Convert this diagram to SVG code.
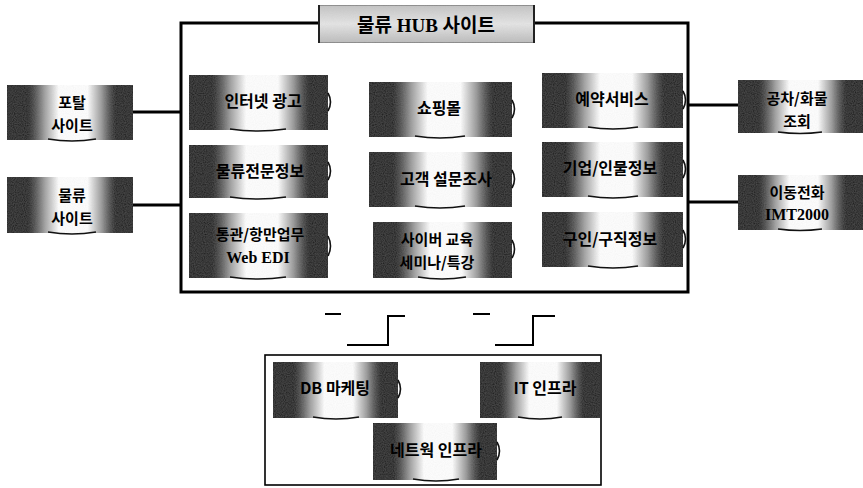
<svg xmlns="http://www.w3.org/2000/svg" width="863" height="488" viewBox="0 0 863 488">
  <defs>
    <linearGradient id="cyl" x1="0" y1="0" x2="1" y2="0">
      <stop offset="0" stop-color="#000000"/>
      <stop offset="0.16" stop-color="#0a0a0a"/>
      <stop offset="0.3" stop-color="#a0a0a0"/>
      <stop offset="0.41" stop-color="#ffffff"/>
      <stop offset="0.64" stop-color="#ffffff"/>
      <stop offset="0.75" stop-color="#9a9a9a"/>
      <stop offset="0.87" stop-color="#0a0a0a"/>
      <stop offset="1" stop-color="#000000"/>
    </linearGradient>
    <linearGradient id="titleg" x1="0" y1="0" x2="0" y2="1">
      <stop offset="0" stop-color="#c4c4c4"/>
      <stop offset="0.5" stop-color="#e6e6e6"/>
      <stop offset="1" stop-color="#bcbcbc"/>
    </linearGradient>
    <filter id="grain" x="0" y="0" width="1" height="1">
      <feTurbulence type="fractalNoise" baseFrequency="0.9" numOctaves="1" seed="3" result="n"/>
      <feColorMatrix in="n" type="matrix" values="0 0 0 0 0.45  0 0 0 0 0.45  0 0 0 0 0.45  0 0 0 0.18 0" result="g"/>
      <feComposite in="g" in2="SourceGraphic" operator="in" result="gc"/>
      <feMerge><feMergeNode in="SourceGraphic"/><feMergeNode in="gc"/></feMerge>
    </filter>
  </defs>
  <style>
    .box{fill:url(#cyl);filter:url(#grain)}
    .base{fill:none;stroke:#111;stroke-width:1.6}
    .bump{fill:none;stroke:#111;stroke-width:1.6}
    .t{font-family:"Noto Sans CJK KR","Liberation Sans",sans-serif;font-weight:bold;font-size:16px;fill:#000;text-anchor:middle;dominant-baseline:central}
    .t2{font-family:"Noto Sans CJK KR","Liberation Sans",sans-serif;font-weight:bold;font-size:15px;fill:#000;text-anchor:middle;dominant-baseline:central}
    .s{font-family:"Liberation Serif","Noto Sans CJK KR",serif;font-weight:bold;font-size:16px;fill:#000;text-anchor:middle;dominant-baseline:central}
    .line{fill:none;stroke:#000;stroke-width:3}
    .thin{fill:none;stroke:#000;stroke-width:2}
  </style>

  <g id="frames">
    <rect x="181" y="23" width="507" height="269" fill="none" stroke="#000" stroke-width="3"/>
    <rect x="265" y="355" width="336" height="130" fill="none" stroke="#000" stroke-width="1.6"/>
  </g>

  <g id="title">
    <rect x="318" y="5" width="217" height="38" fill="url(#titleg)" stroke="#555" stroke-width="1" filter="url(#grain)"/>
    <line x1="319" y1="5" x2="319" y2="43" stroke="#222" stroke-width="2"/>
    <line x1="534" y1="5" x2="534" y2="43" stroke="#222" stroke-width="2"/>
    <text x="426" y="25" class="s" style="font-size:19px">물류 HUB 사이트</text>
  </g>

  <g id="connectors">
    <line class="line" x1="133" y1="112" x2="181" y2="112"/>
    <line class="line" x1="133" y1="205" x2="181" y2="205"/>
    <line class="line" x1="688" y1="105" x2="738" y2="105"/>
    <line class="line" x1="688" y1="202" x2="738" y2="202"/>
    <line class="thin" x1="325" y1="314" x2="341" y2="314"/>
    <polyline class="thin" points="347,345 388,345 388,316 405,316"/>
    <line class="thin" x1="473" y1="314" x2="490" y2="314"/>
    <polyline class="thin" points="495,345 533,345 533,316 555,316"/>
  </g>

  <g id="n-portal">
    <rect class="box" x="7" y="85" width="126" height="55"/>
    <path class="base" d="M48,139 Q72,143 96,139"/>
    <text class="t2" x="72" y="101">포탈</text>
    <text class="t2" x="72" y="124">사이트</text>
  </g>
  <g id="n-logisite">
    <rect class="box" x="7" y="177" width="126" height="56"/>
    <path class="base" d="M48,232 Q72,236 96,232"/>
    <text class="t2" x="72" y="194">물류</text>
    <text class="t2" x="72" y="217">사이트</text>
  </g>

  <g id="n-ad">
    <rect class="box" x="189" y="75" width="139" height="55"/>
    <path class="base" d="M230,129 Q258,133 286,129"/>
    <path class="bump" d="M328,93 Q333,102 328,111"/>
    <text class="t" x="263" y="100">인터넷 광고</text>
  </g>
  <g id="n-info">
    <rect class="box" x="189" y="145" width="139" height="53"/>
    <path class="base" d="M230,197 Q258,201 286,197"/>
    <path class="bump" d="M328,162 Q333,171 328,180"/>
    <text class="t" x="260" y="170">물류전문정보</text>
  </g>
  <g id="n-customs">
    <rect class="box" x="189" y="213" width="139" height="65"/>
    <path class="base" d="M230,277 Q258,281 286,277"/>
    <path class="bump" d="M328,236 Q333,246 328,256"/>
    <text class="t2" x="260" y="233">통관/항만업무</text>
    <text class="s" x="258" y="257">Web EDI</text>
  </g>

  <g id="n-shop">
    <rect class="box" x="369" y="82" width="143" height="55"/>
    <path class="base" d="M415,136 Q440,140 465,136"/>
    <path class="bump" d="M512,100 Q517,109 512,118"/>
    <text class="t" x="439" y="107">쇼핑몰</text>
  </g>
  <g id="n-survey">
    <rect class="box" x="369" y="152" width="143" height="55"/>
    <path class="base" d="M415,206 Q440,210 465,206"/>
    <path class="bump" d="M512,170 Q517,179 512,188"/>
    <text class="t" x="446" y="178">고객 설문조사</text>
  </g>
  <g id="n-cyber">
    <rect class="box" x="373" y="222" width="139" height="56"/>
    <path class="base" d="M418,277 Q442,281 466,277"/>
    <path class="bump" d="M512,240 Q517,249 512,258"/>
    <text class="t2" x="437" y="238">사이버 교육</text>
    <text class="t2" x="437" y="261">세미나/특강</text>
  </g>

  <g id="n-reserve">
    <rect class="box" x="542" y="73" width="141" height="55"/>
    <path class="base" d="M588,127 Q613,131 638,127"/>
    <path class="bump" d="M683,91 Q688,100 683,109"/>
    <text class="t" x="612" y="98">예약서비스</text>
  </g>
  <g id="n-company">
    <rect class="box" x="542" y="142" width="141" height="55"/>
    <path class="base" d="M588,196 Q613,200 638,196"/>
    <path class="bump" d="M683,160 Q688,169 683,178"/>
    <text class="t" x="610" y="167">기업/인물정보</text>
  </g>
  <g id="n-job">
    <rect class="box" x="542" y="212" width="141" height="55"/>
    <path class="base" d="M588,266 Q613,270 638,266"/>
    <path class="bump" d="M683,230 Q688,239 683,248"/>
    <text class="t" x="610" y="238">구인/구직정보</text>
  </g>

  <g id="n-freight">
    <rect class="box" x="738" y="80" width="125" height="53"/>
    <path class="base" d="M778,132 Q800,135 822,132"/>
    <text class="t2" x="797" y="97">공차/화물</text>
    <text class="t2" x="797" y="120">조회</text>
  </g>
  <g id="n-mobile">
    <rect class="box" x="738" y="175" width="125" height="55"/>
    <path class="base" d="M778,229 Q800,232 822,229"/>
    <text class="t2" x="797" y="191">이동전화</text>
    <text class="s" x="797" y="214">IMT2000</text>
  </g>

  <g id="n-db">
    <rect class="box" x="273" y="362" width="125" height="56"/>
    <path class="base" d="M313,417 Q336,421 359,417"/>
    <path class="bump" d="M398,380 Q403,389 398,398"/>
    <text class="t" x="335" y="387">DB 마케팅</text>
  </g>
  <g id="n-it">
    <rect class="box" x="480" y="362" width="120" height="56"/>
    <path class="base" d="M518,417 Q540,421 562,417"/>
    <text class="t" x="545" y="387">IT 인프라</text>
  </g>
  <g id="n-net">
    <rect class="box" x="373" y="423" width="124" height="57"/>
    <path class="base" d="M413,479 Q436,483 459,479"/>
    <path class="bump" d="M497,442 Q502,451 497,460"/>
    <text class="t" x="436" y="449">네트웍 인프라</text>
  </g>
</svg>
